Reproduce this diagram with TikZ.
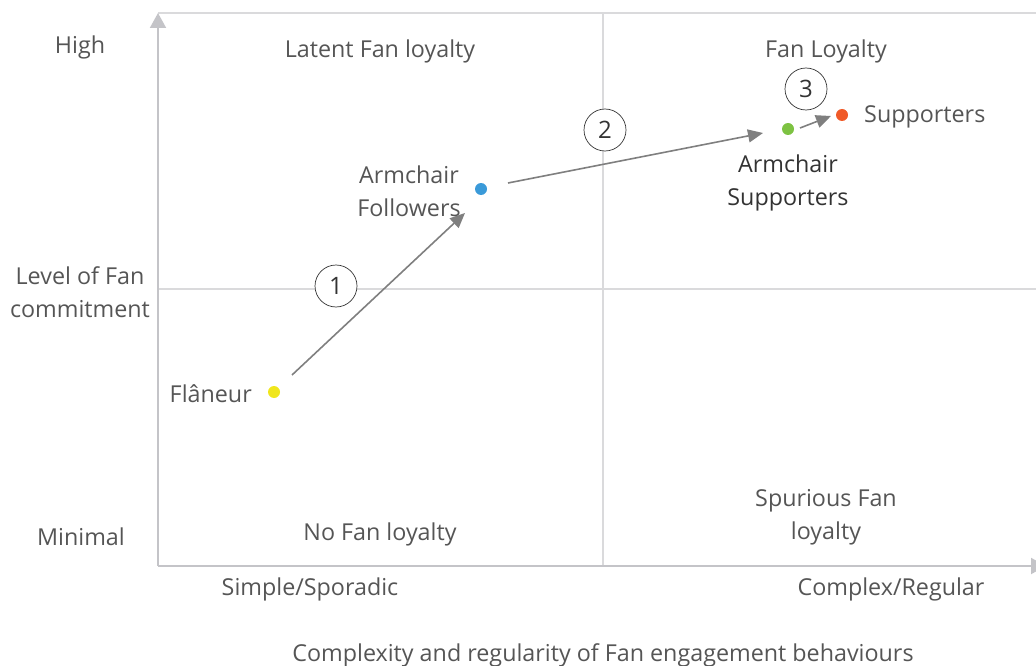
\documentclass[tikz,border=0pt]{standalone}
\usepackage{fontspec}
\setmainfont{Open Sans}
\usetikzlibrary{arrows.meta}
\definecolor{txt}{HTML}{555555}
\definecolor{axisc}{HTML}{C4C4C8}
\definecolor{gridc}{HTML}{DADADC}
\definecolor{arrc}{HTML}{7F7F7F}
\definecolor{yel}{HTML}{F0E61C}
\definecolor{blu}{HTML}{3A9AD9}
\definecolor{grn}{HTML}{7DC242}
\definecolor{org}{HTML}{F05A28}
\tikzset{
  lbl/.style={text=txt,font=\fontsize{23.3}{33}\selectfont,inner sep=0pt,align=center,yshift=-2pt},
  axisline/.style={draw=axisc,line width=2pt},
  gridline/.style={draw=gridc,line width=1.6pt},
  dot/.style={circle,inner sep=0pt,minimum size=12pt},
  stage/.style={circle,draw=black!80,fill=white,line width=0.7pt,minimum size=42pt,inner sep=0pt,text=black!80,font=\fontsize{24}{24}\selectfont},
  move/.style={draw=arrc,line width=1.6pt,-{Triangle[length=15pt,width=13pt]}}
}
\begin{document}
\begin{tikzpicture}[x=1pt,y=-1pt]
\useasboundingbox (0,0) rectangle (1036,666);
% frame coordinates
\coordinate (o) at (158,566);
\coordinate (ytop) at (158,13);
\coordinate (xend) at (1046,566);
\coordinate (tl) at (158,13);
\coordinate (tr) at (1036,13);
\coordinate (mt) at (603,13);
\coordinate (mb) at (603,566);
\coordinate (ml) at (158,289);
\coordinate (mr) at (1036,289);
% grid
\draw[gridline] (mt) -- (mb);
\draw[gridline] (ml) -- (mr);
\draw[gridline] (tl) -- (tr);
% axes
\draw[axisline,-{Triangle[length=15pt,width=16pt]}] (o) -- (ytop);
\draw[axisline,-{Triangle[length=15pt,width=16pt]}] (o) -- (xend);
% dots
\node[dot,fill=yel] (fl) at (274,392) {};
\node[dot,fill=blu] (af) at (481,189) {};
\node[dot,fill=grn] (as) at (788,129) {};
\node[dot,fill=org] (su) at (842,115) {};
% arrows
\coordinate (a1s) at (292,375);
\coordinate (a1e) at (465,213);
\coordinate (a2s) at (508,183);
\coordinate (a2e) at (763,133);
\coordinate (a3s) at (800,128);
\coordinate (a3e) at (831,116);
\draw[move] (a1s) -- (a1e);
\draw[move] (a2s) -- (a2e);
\draw[move] (a3s) -- (a3e);
% stage circles
\node[stage] (s1) at (336,286) {1};
\node[stage] (s2) at (605,130) {2};
\node[stage] (s3) at (806,89) {3};
% labels
\node[lbl] (high) at (80,45) {High};
\node[lbl] (lev) at (80,290) {Level of Fan\\commitment};
\node[lbl] (min) at (81,535) {Minimal};
\node[lbl] (lat) at (380,49) {Latent Fan loyalty};
\node[lbl] (fanl) at (826,49) {Fan Loyalty};
\node[lbl] (afl) at (409,189) {Armchair\\Followers};
\node[lbl,anchor=west] (sul) at (864,115) {Supporters};
\node[lbl,text=black!80] (asl) at (788,181) {Armchair\\Supporters};
\node[lbl,anchor=east] (fll) at (252,392) {Flâneur};
\node[lbl] (nof) at (380,532) {No Fan loyalty};
\node[lbl] (spu) at (826,515) {Spurious Fan\\loyalty};
\node[lbl] (simp) at (310,587) {Simple/Sporadic};
\node[lbl] (comp) at (891,587) {Complex/Regular};
\node[lbl] (xt) at (603,653) {Complexity and regularity of Fan engagement behaviours};
\end{tikzpicture}
\end{document}
